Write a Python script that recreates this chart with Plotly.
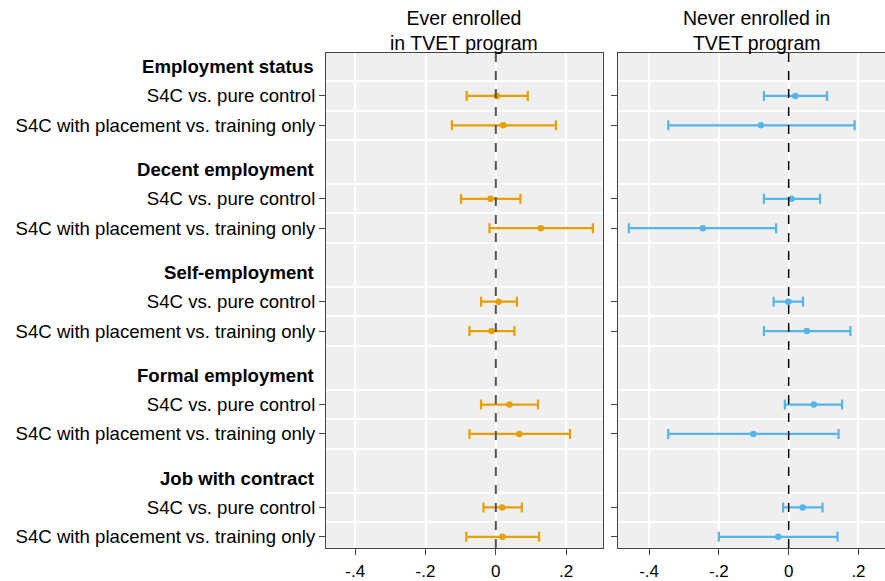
import plotly.graph_objects as go

groups = ["Employment status", "Decent employment", "Self-employment",
          "Formal employment", "Job with contract"]
rows = ["S4C vs. pure control", "S4C with placement vs. training only"]

# Ever enrolled in TVET program (orange)
ever_pt = [0.003, 0.021, -0.015, 0.128, 0.008, -0.012, 0.039, 0.067, 0.018, 0.019]
ever_lo = [-0.083, -0.125, -0.099, -0.018, -0.042, -0.075, -0.042, -0.075, -0.035, -0.084]
ever_hi = [0.091, 0.171, 0.070, 0.276, 0.060, 0.053, 0.120, 0.211, 0.074, 0.123]

# Never enrolled in TVET program (blue)
never_pt = [0.019, -0.079, 0.008, -0.246, -0.001, 0.052, 0.072, -0.101, 0.040, -0.030]
never_lo = [-0.071, -0.345, -0.071, -0.458, -0.043, -0.071, -0.011, -0.345, -0.016, -0.200]
never_hi = [0.110, 0.189, 0.090, -0.036, 0.041, 0.177, 0.153, 0.143, 0.097, 0.140]

xtick_vals = [-0.4, -0.2, 0, 0.2]
xtick_text = ["-.4", "-.2", "0", ".2"]

# layout positions (each group: header, then two rows, then a half-row gap)
header_pos = [3.5 * g for g in range(len(groups))]
row_pos = [3.5 * g + r + 1 for g in range(len(groups)) for r in range(len(rows))]
row_labels = [rows[r] for g in range(len(groups)) for r in range(len(rows))]
grid_pos = sorted(set([p - 0.5 for p in row_pos] + [p + 0.5 for p in row_pos]))

FONT = "Liberation Sans, Arial, sans-serif"
ORANGE = "#E69F00"
BLUE = "#56B4E9"
LABEL_SIZE = 18.6

fig = go.Figure()

def add_series(pt, lo, hi, color, xa, ya):
    fig.add_trace(go.Scatter(
        x=pt, y=row_pos, mode="markers",
        marker=dict(color=color, size=6.5, symbol="circle"),
        error_x=dict(type="data", symmetric=False,
                     array=[h - p for h, p in zip(hi, pt)],
                     arrayminus=[p - l for p, l in zip(pt, lo)],
                     color=color, thickness=2.2, width=5),
        xaxis=xa, yaxis=ya, showlegend=False, hoverinfo="skip"))

add_series(ever_pt, ever_lo, ever_hi, ORANGE, "x", "y")
add_series(never_pt, never_lo, never_hi, BLUE, "x2", "y2")

axis_common = dict(
    showline=True, linecolor="#444", linewidth=1, mirror=True,
    ticks="outside", ticklen=6, tickcolor="#444", tickwidth=1,
    zeroline=False, automargin=False,
)

xaxis_common = dict(tickvals=xtick_vals, ticktext=xtick_text,
                    showgrid=True, gridcolor="white", gridwidth=1.5,
                    ticklabelstandoff=2,
                    tickfont=dict(family=FONT, size=17, color="black"),
                    **axis_common)

yrange = [16.38, -0.46]

fig.update_layout(
    width=885, height=581,
    margin=dict(l=326, r=0, t=53, b=33, autoexpand=False),
    paper_bgcolor="white", plot_bgcolor="#efefef",
    font=dict(family=FONT, size=17, color="black"),
    xaxis=dict(domain=[0, 0.495], range=[-0.483, 0.304], **xaxis_common),
    xaxis2=dict(domain=[0.523, 1], range=[-0.488, 0.276], **xaxis_common),
    yaxis=dict(anchor="x", range=yrange, tickvals=row_pos, ticktext=row_labels,
               showgrid=False,
               tickfont=dict(family=FONT, size=LABEL_SIZE, color="black"),
               minor=dict(tickvals=grid_pos, showgrid=True, gridcolor="white",
                          gridwidth=1.5, ticks=""),
               **axis_common),
    yaxis2=dict(anchor="x2", range=yrange, tickvals=row_pos, showticklabels=False,
                showgrid=False,
                minor=dict(tickvals=grid_pos, showgrid=True, gridcolor="white",
                           gridwidth=1.5, ticks=""),
                **axis_common),
)

# reference lines at zero
fig.add_shape(type="line", xref="x", yref="y domain", x0=0, x1=0, y0=0, y1=1,
              line=dict(color="#555", width=2, dash="dash"), layer="above")
fig.add_shape(type="line", xref="x2", yref="y2 domain", x0=0, x1=0, y0=0, y1=1,
              line=dict(color="black", width=1.5, dash="dash"), layer="above")

# group headers
for g, name in enumerate(groups):
    fig.add_annotation(text="<b>" + name + "</b>", xref="x domain", yref="y",
                       x=0, y=header_pos[g], xanchor="right", yanchor="middle",
                       xshift=-10, showarrow=False,
                       font=dict(family=FONT, size=LABEL_SIZE, color="black"))

# panel titles
fig.add_annotation(text="Ever enrolled<br>in TVET program", xref="paper", yref="paper",
                   x=(464 - 326) / 559, y=1, xanchor="center", yanchor="bottom",
                   showarrow=False, yshift=-3, align="center",
                   font=dict(family=FONT, size=19.5, color="black"))
fig.add_annotation(text="Never enrolled in<br>TVET program", xref="paper", yref="paper",
                   x=(756.5 - 326) / 559, y=1, xanchor="center", yanchor="bottom",
                   showarrow=False, yshift=-3, align="center",
                   font=dict(family=FONT, size=19.5, color="black"))

fig.write_html("out.html", config={"displayModeBar": False},
               post_script="document.body.style.margin='0';document.body.style.padding='0';")
